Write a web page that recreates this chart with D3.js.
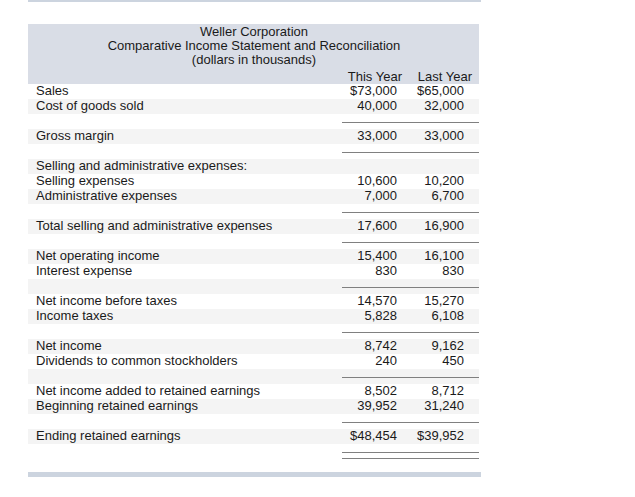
<!DOCTYPE html>
<html><head><meta charset="utf-8">
<script src="https://cdn.jsdelivr.net/npm/d3@7"></script>
<style>html,body{margin:0;padding:0;background:#fff;}svg{display:block;}</style>
</head><body>
<svg id="c" width="635" height="497"></svg>
<script>
const titleLines = ["Weller Corporation","Comparative Income Statement and Reconciliation","(dollars in thousands)"];
const columns = ["This Year","Last Year"];
const labels = ["Sales","Cost of goods sold","","Gross margin","","Selling and administrative expenses:","Selling expenses","Administrative expenses","","Total selling and administrative expenses","","Net operating income","Interest expense","","Net income before taxes","Income taxes","","Net income","Dividends to common stockholders","","Net income added to retained earnings","Beginning retained earnings","","Ending retained earnings",""];
const thisYear = [73000,40000,null,33000,null,null,10600,7000,null,17600,null,15400,830,null,14570,5828,null,8742,240,null,8502,39952,null,48454,null];
const lastYear = [65000,32000,null,33000,null,null,10200,6700,null,16900,null,16100,830,null,15270,6108,null,9162,450,null,8712,31240,null,39952,null];
const dollarRows = [0,23];
const underlineRows = [2,4,8,10,13,16,19,22];
const doubleUnderlineRows = [24];

const svg = d3.select("#c");
const font = "'Liberation Sans', Arial, Helvetica, sans-serif";
const fs = 13;
const ink = "#1a1a1a";
const n = labels.length;
const y = d3.scaleLinear().domain([0,n]).range([84,84+15*n]);
const x = d3.scaleOrdinal().domain(["label","This Year","Last Year"]).range([36,397,464]);
const fmt = d3.format(",");

// top & bottom bars
svg.append("rect").attr("x",28).attr("y",0).attr("width",453).attr("height",2).attr("fill","#ccd4df");
svg.append("rect").attr("x",28).attr("y",472).attr("width",453).attr("height",5).attr("fill","#ccd4df");
// header block
svg.append("rect").attr("x",28).attr("y",24).attr("width",451).attr("height",60).attr("fill","#d9dde6");

// stripes
svg.selectAll("rect.stripe").data(d3.range(0,24).filter(i=>i%2===1)).join("rect")
  .attr("class","stripe").attr("x",28).attr("width",451)
  .attr("y",i=>y(i)).attr("height",15).attr("fill","#f4f4f4");

// title
svg.selectAll("text.title").data(titleLines).join("text").attr("class","title")
  .attr("x",254).attr("y",(d,i)=>36+i*14).attr("text-anchor","middle")
  .attr("font-family",font).attr("font-size",fs).attr("fill",ink).text(d=>d);

// column headers
svg.selectAll("text.colh").data(columns).join("text").attr("class","colh")
  .attr("x",(d,i)=>[402,472][i]).attr("y",81).attr("text-anchor","end")
  .attr("font-family",font).attr("font-size",fs).attr("fill",ink).text(d=>d);

// labels
svg.selectAll("text.lab").data(labels).join("text").attr("class","lab")
  .attr("x",x("label")).attr("y",(d,i)=>y(i)+11)
  .attr("font-family",font).attr("font-size",fs).attr("fill",ink).text(d=>d);

function vals(arr,col){
  const cls = "v"+col.replace(" ","");
  svg.selectAll("text."+cls).data(arr).join("text").attr("class",cls)
    .attr("x",x(col)).attr("y",(d,i)=>y(i)+11).attr("text-anchor","end")
    .attr("font-family",font).attr("font-size",fs).attr("fill",ink)
    .text((d,i)=>d==null?"":(dollarRows.includes(i)?"$":"")+fmt(d));
}
vals(thisYear,"This Year");
vals(lastYear,"Last Year");

// underlines
svg.selectAll("line.ul").data(underlineRows).join("line").attr("class","ul")
  .attr("x1",342).attr("x2",479).attr("y1",i=>Math.round(y(i)+7.5)+0.5).attr("y2",i=>Math.round(y(i)+7.5)+0.5)
  .attr("stroke","#808080").attr("stroke-width",1);
svg.selectAll("line.dul").data(doubleUnderlineRows.flatMap(i=>[y(i)+7.5,y(i)+14])).join("line").attr("class","dul")
  .attr("x1",342).attr("x2",479).attr("y1",v=>Math.round(v)+0.5).attr("y2",v=>Math.round(v)+0.5)
  .attr("stroke","#808080").attr("stroke-width",1);
</script>
</body></html>
